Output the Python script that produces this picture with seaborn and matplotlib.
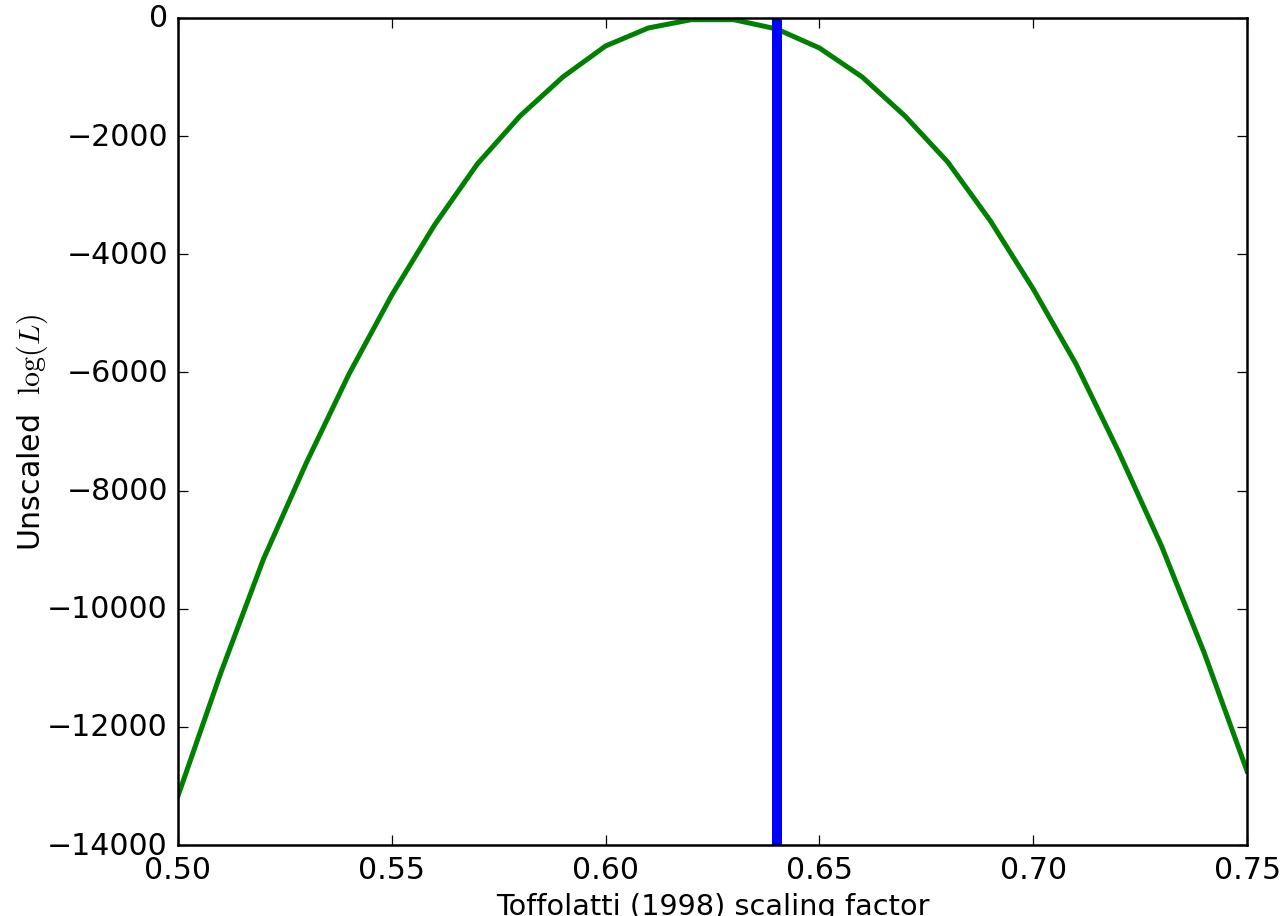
import matplotlib
matplotlib.use("Agg")
import matplotlib.pyplot as plt
import seaborn as sns
import pandas as pd

# Scaling factors scanned and the unscaled log-likelihood at each one
scale_factors = [0.50, 0.51, 0.52, 0.53, 0.54, 0.55, 0.56, 0.57, 0.58, 0.59,
                 0.60, 0.61, 0.62, 0.63, 0.64, 0.65, 0.66, 0.67, 0.68, 0.69,
                 0.70, 0.71, 0.72, 0.73, 0.74, 0.75]
log_like = [-13171, -11089, -9159, -7534, -6027, -4690, -3504, -2472, -1659, -999,
            -474, -169, -29, -29, -186, -508, -999, -1659, -2438, -3437,
            -4588, -5858, -7348, -8939, -10751, -12748]
best_factor = 0.64

plt.style.use("classic")
plt.rcParams["figure.facecolor"] = "white"
plt.rcParams["savefig.facecolor"] = "white"
plt.rcParams["mathtext.fontset"] = "cm"

dpi = 180
fig = plt.figure(figsize=(1283 / dpi, 917 / dpi), dpi=dpi)
ax = fig.add_axes([0.1387, 0.0774, 0.8333, 0.9019])

df = pd.DataFrame({"factor": scale_factors, "logL": log_like})
sns.lineplot(data=df, x="factor", y="logL", ax=ax, color="g", linewidth=2)
ax.axvline(best_factor, color="b", linewidth=4)

ax.set_xlim(0.50, 0.75)
ax.set_ylim(-14000, 0)
ax.set_xticks([0.50, 0.55, 0.60, 0.65, 0.70, 0.75])
ax.set_xticklabels(["0.50", "0.55", "0.60", "0.65", "0.70", "0.75"])
ax.set_yticks(range(-14000, 1, 2000))
ax.set_xlabel("Toffolatti (1998) scaling factor", fontsize=11.5, labelpad=3)
ax.set_ylabel(r"Unscaled  $\log(L)$", fontsize=12, labelpad=-1)

fig.savefig("out.png", dpi=dpi)
